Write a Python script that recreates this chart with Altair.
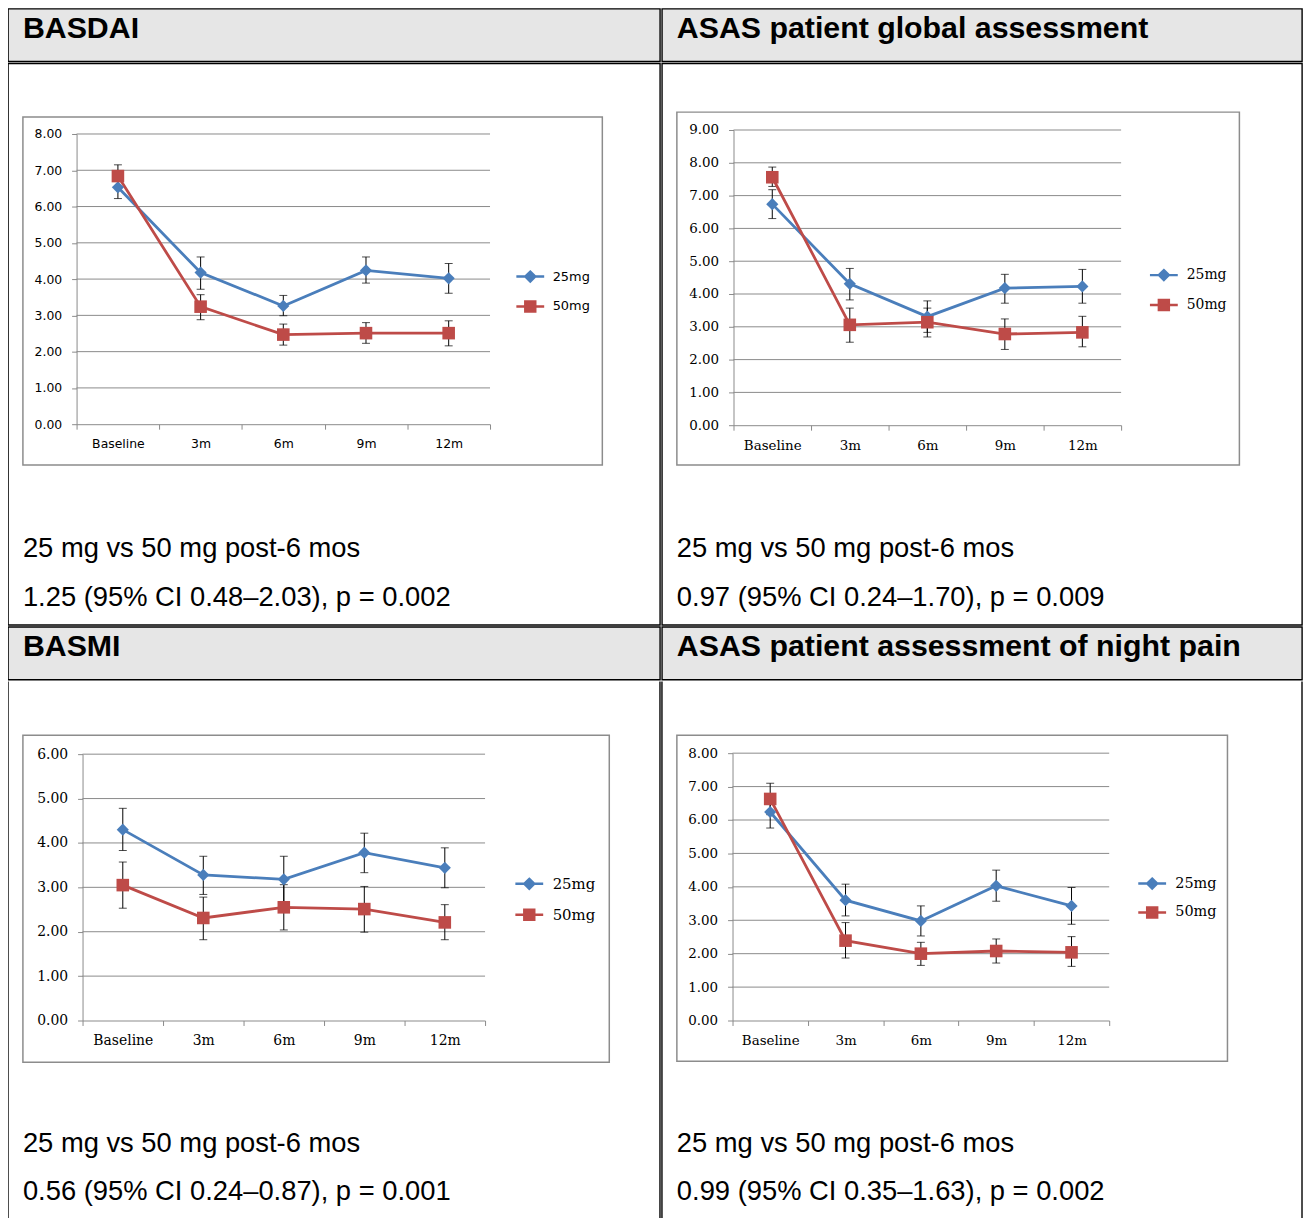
import altair as alt
import pandas as pd

# ---------------- data ----------------
categories = ["Baseline", "3m", "6m", "9m", "12m"]
series_names = ["25mg", "50mg"]
series_colors = ["#4A7EBB", "#BE4B48"]

panel_titles = [
    "BASDAI",
    "ASAS patient global assessment",
    "BASMI",
    "ASAS patient assessment of night pain",
]
stat_heading = "25 mg vs 50 mg post-6 mos"
stat_results = [
    "1.25 (95% CI 0.48\u20132.03), p = 0.002",
    "0.97 (95% CI 0.24\u20131.70), p = 0.009",
    "0.56 (95% CI 0.24\u20130.87), p = 0.001",
    "0.99 (95% CI 0.35\u20131.63), p = 0.002",
]

# BASDAI
basdai_25_mean = [6.53, 4.18, 3.26, 4.24, 4.02]
basdai_25_low = [6.22, 3.72, 2.99, 3.89, 3.61]
basdai_25_high = [6.84, 4.61, 3.55, 4.61, 4.43]
basdai_50_mean = [6.84, 3.24, 2.47, 2.51, 2.51]
basdai_50_low = [6.53, 2.88, 2.18, 2.23, 2.16]
basdai_50_high = [7.15, 3.57, 2.76, 2.80, 2.85]
basdai_ticks = [0, 1, 2, 3, 4, 5, 6, 7, 8]

# ASAS patient global assessment
global_25_mean = [6.74, 4.31, 3.31, 4.18, 4.23]
global_25_low = [6.30, 3.82, 2.83, 3.72, 3.72]
global_25_high = [7.18, 4.78, 3.79, 4.60, 4.75]
global_50_mean = [7.56, 3.06, 3.14, 2.78, 2.83]
global_50_low = [7.28, 2.53, 2.69, 2.31, 2.39]
global_50_high = [7.87, 3.57, 3.57, 3.24, 3.32]
global_ticks = [0, 1, 2, 3, 4, 5, 6, 7, 8, 9]

# BASMI
basmi_25_mean = [4.30, 3.28, 3.18, 3.78, 3.44]
basmi_25_low = [3.83, 2.84, 2.66, 3.33, 2.99]
basmi_25_high = [4.78, 3.70, 3.70, 4.22, 3.89]
basmi_50_mean = [3.05, 2.31, 2.55, 2.51, 2.21]
basmi_50_low = [2.53, 1.82, 2.04, 1.99, 1.82]
basmi_50_high = [3.57, 2.78, 3.06, 3.02, 2.61]
basmi_ticks = [0, 1, 2, 3, 4, 5, 6]

# ASAS patient assessment of night pain
night_25_mean = [6.24, 3.60, 2.98, 4.03, 3.43]
night_25_low = [5.76, 3.13, 2.53, 3.57, 2.88]
night_25_high = [6.72, 4.08, 3.43, 4.50, 3.98]
night_50_mean = [6.63, 2.39, 2.00, 2.08, 2.04]
night_50_low = [6.16, 1.87, 1.65, 1.72, 1.62]
night_50_high = [7.10, 2.93, 2.34, 2.44, 2.51]
night_ticks = [0, 1, 2, 3, 4, 5, 6, 7, 8]

# ---------------- styles / layout ----------------
COL_W = [656, 644]
HEAD_H = 53
BODY_H = [565, 545]
HEAD_FILL = "#e6e6e6"
AXIS_GRAY = "#8a8a8a"
BOX_GRAY = "#8c8c8c"
TEXT_FONT = "Liberation Sans"
LINE_W = 1.4

legend_paths = [
    "M-2.8,0H2.8M0,-1L1,0L0,1L-1,0Z",
    "M-2.8,0H2.8M-1,-1H1V1H-1Z",
]

geoms = [
    dict(box=(15, 598, 54, 404), x0=69, x1=485, yt=71, yb=363, lx=519, ly=208,
         font="DejaVu Sans", fs=12.5, lfs=13, rowpad=9, t1=497, t2=546),
    dict(box=(15, 581, 49, 404), x0=72, x1=462, yt=67, yb=364, lx=498, ly=206,
         font="DejaVu Serif", fs=13.5, lfs=14, rowpad=10, t1=497, t2=546),
    dict(box=(15, 605, 54, 383), x0=75, x1=480, yt=73, yb=341, lx=517, ly=196,
         font="DejaVu Serif", fs=14, lfs=15, rowpad=10, t1=473, t2=522),
    dict(box=(15, 569, 54, 382), x0=71, x1=450, yt=72, yb=341, lx=486, ly=196,
         font="DejaVu Serif", fs=13.5, lfs=14.5, rowpad=8, t1=473, t2=522),
]


def panel_frame(m25, lo25, hi25, m50, lo50, hi50):
    rows = []
    for s, m, lo, hi in ((series_names[0], m25, lo25, hi25),
                         (series_names[1], m50, lo50, hi50)):
        for c, a, b, h in zip(categories, m, lo, hi):
            rows.append({"cat": c, "series": s, "mean": a, "lo": b, "hi": h})
    return pd.DataFrame(rows)


panel_data = [
    (panel_frame(basdai_25_mean, basdai_25_low, basdai_25_high,
                 basdai_50_mean, basdai_50_low, basdai_50_high), basdai_ticks),
    (panel_frame(global_25_mean, global_25_low, global_25_high,
                 global_50_mean, global_50_low, global_50_high), global_ticks),
    (panel_frame(basmi_25_mean, basmi_25_low, basmi_25_high,
                 basmi_50_mean, basmi_50_low, basmi_50_high), basmi_ticks),
    (panel_frame(night_25_mean, night_25_low, night_25_high,
                 night_50_mean, night_50_low, night_50_high), night_ticks),
]


def header(title, w):
    return alt.Chart(pd.DataFrame({"t": [title]})).mark_text(
        align="left", baseline="alphabetic", font=TEXT_FONT, fontWeight="bold",
        fontSize=30.5, color="black"
    ).encode(
        x=alt.value(15), y=alt.value(29), text="t:N"
    ).properties(
        width=w, height=HEAD_H,
        view=alt.ViewBackground(fill=HEAD_FILL, stroke="black", strokeWidth=LINE_W),
    )


def body(df, ticks, g, result, w, h, closed):
    xscale = alt.Scale(domain=categories, range=[g["x0"], g["x1"]],
                       paddingInner=0, paddingOuter=0)
    yscale = alt.Scale(domain=[0, ticks[-1]], range=[g["yb"], g["yt"]], nice=False)
    xaxis = alt.Axis(title=None, orient="bottom", offset=g["yb"] - h, tickBand="extent",
                     grid=False, domainColor=AXIS_GRAY, tickColor=AXIS_GRAY, tickSize=5,
                     labelFont=g["font"], labelFontSize=g["fs"], labelColor="black",
                     labelPadding=8, labelAngle=0, zindex=1)
    yaxis = alt.Axis(title=None, orient="left", offset=-g["x0"], values=ticks, format=".2f",
                     grid=False, domainColor=AXIS_GRAY, tickColor=AXIS_GRAY, tickSize=5,
                     labelFont=g["font"], labelFontSize=g["fs"], labelColor="black",
                     labelPadding=10, zindex=1)

    def X():
        return alt.X("cat:N", scale=xscale, axis=xaxis)

    def Y(field):
        return alt.Y(field, scale=yscale, axis=yaxis)

    bx0, bx1, by0, by1 = g["box"]
    one = pd.DataFrame({"k": [0]})
    layers = []
    if not closed:
        for xv in (0, w):
            layers.append(alt.Chart(one).mark_rule(color="black", strokeWidth=LINE_W).encode(
                x=alt.value(xv), y=alt.value(0), y2=alt.value(h)))
    layers.append(alt.Chart(one).mark_rect(fillOpacity=0, stroke=BOX_GRAY, strokeWidth=1.5).encode(
        x=alt.value(bx0), x2=alt.value(bx1), y=alt.value(by0), y2=alt.value(by1)))

    layers.append(alt.Chart(pd.DataFrame({"tick": ticks[1:]})).mark_rule(
        color=AXIS_GRAY, strokeWidth=1).encode(
        y=Y("tick:Q"), x=alt.value(g["x0"]), x2=alt.value(g["x1"])))

    base = alt.Chart(df)
    layers.append(base.mark_rule(color="black", strokeWidth=1).encode(
        x=X(), y=Y("lo:Q"), y2="hi:Q"))
    for f in ("lo:Q", "hi:Q"):
        layers.append(base.mark_tick(color="black", size=8, thickness=1,
                                     orient="horizontal").encode(x=X(), y=Y(f)))

    for s, c in zip(series_names, series_colors):
        layers.append(base.transform_filter(alt.datum.series == s).mark_line(
            color=c, strokeWidth=2.8).encode(x=X(), y=Y("mean:Q")))
    for s, c, shp, sz in zip(series_names, series_colors, ["diamond", "square"], [150, 160]):
        layers.append(base.transform_filter(alt.datum.series == s).mark_point(
            shape=shp, filled=True, size=sz, color=c, opacity=1).encode(
            x=X(), y=Y("mean:Q")))

    leg = alt.Legend(title=None, orient="none", legendX=g["lx"], legendY=g["ly"],
                     direction="vertical", symbolSize=100, symbolStrokeWidth=2.5,
                     symbolOpacity=1, labelFont=g["font"], labelFontSize=g["lfs"],
                     labelColor="black", labelOffset=16, rowPadding=g["rowpad"], padding=0)
    cscale = alt.Scale(domain=series_names, range=series_colors)
    layers.append(alt.Chart(pd.DataFrame({"series": series_names})).mark_point(
        filled=True, opacity=0).encode(
        fill=alt.Fill("series:N", scale=cscale, legend=leg),
        stroke=alt.Stroke("series:N", scale=cscale, legend=leg),
        shape=alt.Shape("series:N", scale=alt.Scale(domain=series_names, range=legend_paths),
                        legend=leg)))

    for txt, yy in ((stat_heading, g["t1"]), (result, g["t2"])):
        layers.append(alt.Chart(pd.DataFrame({"t": [txt]})).mark_text(
            align="left", baseline="alphabetic", font=TEXT_FONT, fontSize=27.5,
            color="black").encode(x=alt.value(15), y=alt.value(yy), text="t:N"))

    view = (alt.ViewBackground(fill="white", stroke="black", strokeWidth=LINE_W) if closed
            else alt.ViewBackground(fill="white", strokeWidth=0))
    return alt.layer(*layers).properties(width=w, height=h, view=view)


def independent(ch):
    return ch.resolve_scale(fill="independent", stroke="independent",
                            shape="independent", x="independent", y="independent")


rows = []
for r in range(2):
    heads = []
    bodies = []
    for c in range(2):
        i = r * 2 + c
        df, ticks = panel_data[i]
        heads.append(header(panel_titles[i], COL_W[c]))
        bodies.append(body(df, ticks, geoms[i], stat_results[i], COL_W[c], BODY_H[r], r == 0))
    rows.append(alt.hconcat(*heads, spacing=0))
    rows.append(independent(alt.hconcat(*bodies, spacing=0)))

chart = independent(alt.vconcat(*rows, spacing=0)).properties(
    padding={"top": -4, "left": -1, "right": 0, "bottom": 0}
).configure(background="white")

chart.save("out.html", embed_options={"renderer": "svg", "actions": False})
